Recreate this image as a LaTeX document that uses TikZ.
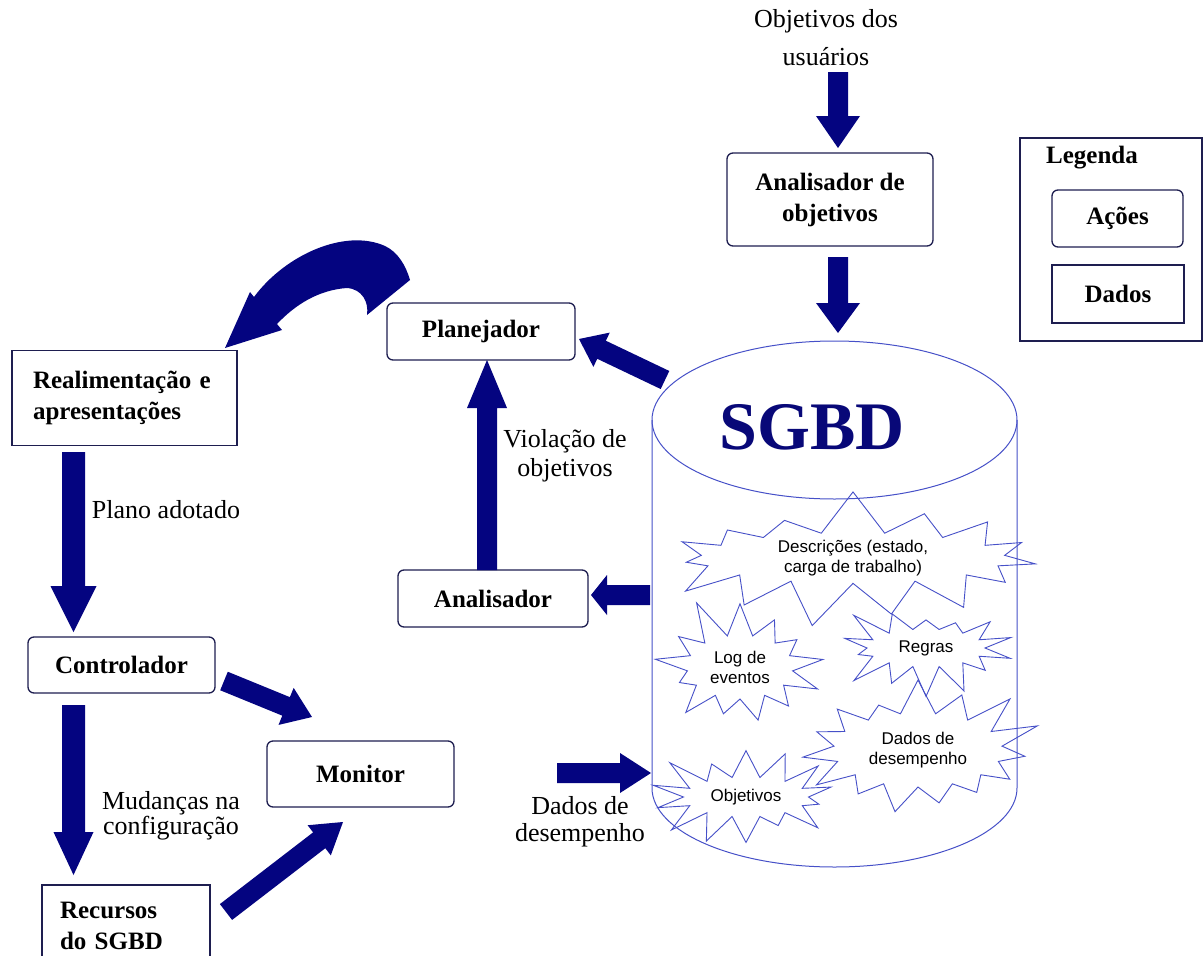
\documentclass[tikz,border=0pt]{standalone}
\usepackage{fontspec}
\setmainfont{Liberation Serif}
\newfontfamily\burstfont{Liberation Sans}
\usetikzlibrary{calc,shapes.symbols}

\definecolor{arrowblue}{RGB}{4,4,128}
\definecolor{boxline}{RGB}{30,30,80}
\definecolor{dbline}{RGB}{70,80,200}
\definecolor{sgbdblue}{RGB}{8,8,120}

% block arrow: #1 tail, #2 tip, #3 half shaft width, #4 half head width, #5 head length
\newcommand\blockarrow[5]{%
  \path ($(#2)!#5!(#1)$) coordinate (ba-h);
  \fill[arrowblue] ($(#1)!#3!90:(#2)$) -- ($(ba-h)!#3!-90:(#1)$) -- ($(ba-h)!#4!-90:(#1)$)
    -- (#2) -- ($(ba-h)!#4!90:(#1)$) -- ($(ba-h)!#3!90:(#1)$) -- ($(#1)!#3!-90:(#2)$) -- cycle;}

\begin{document}
\begin{tikzpicture}[x=1pt,y=-1pt,
  action/.style={draw=boxline, line width=1.3pt, rounded corners=6pt, inner sep=0pt,
    align=center, font=\fontsize{25}{31}\selectfont\bfseries},
  datum/.style={draw=boxline, line width=1.3pt, inner sep=0pt,
    font=\fontsize{25}{31}\selectfont\bfseries},
  lbl/.style={inner sep=0pt, align=center},
  burst/.style={starburst, draw=dbline, line width=0.9pt, inner sep=0pt, align=center,
    font=\burstfont\fontsize{17}{20}\selectfont},
  dbstroke/.style={draw=dbline, line width=1pt}
]
\useasboundingbox (0,0) rectangle (1203,956);
\fill[white] (0,0) rectangle (1203,956);

% ---------- database cylinder ----------
\draw[dbstroke] (834.5,420) ellipse [x radius=182.5pt, y radius=79pt];
\draw[dbstroke] (652,420) -- (652,788) arc[start angle=180, end angle=360, x radius=182.5pt, y radius=79pt] -- (1017,420);
\node[font=\fontsize{68}{68}\selectfont\bfseries, text=sgbdblue, inner sep=0pt] (sgbd) at (812,427) {SGBD};

% ---------- stored data ----------
\node[burst, minimum width=395pt, minimum height=130pt, starburst points=15,
  starburst point height=45pt, random starburst=7] (desc) at (853,558) {Descrições (estado,\\carga de trabalho)};
\node[burst, minimum width=190pt, minimum height=148pt, starburst points=13,
  starburst point height=42pt, random starburst=11] (log) at (740,667) {Log de\\eventos};
\node[burst, minimum width=188pt, minimum height=108pt, starburst points=14,
  starburst point height=35pt, random starburst=23] (rules) at (926,648) {Regras};
\node[burst, minimum width=265pt, minimum height=170pt, starburst points=15,
  starburst point height=48pt, random starburst=31] (perfdata) at (918,750) {Dados de\\desempenho};
\node[burst, minimum width=205pt, minimum height=120pt, starburst points=14,
  starburst point height=40pt, random starburst=41] (goals) at (746,797) {Objetivos};

% ---------- action and data boxes ----------
\node[action, minimum width=206pt, minimum height=93pt] (ga) at (830,199.5) {Analisador de\\objetivos};
\node[action, minimum width=188pt, minimum height=57pt] (plan) at (481,331.5) {Planejador};
\node[action, minimum width=190pt, minimum height=57pt] (anl) at (493,598.5) {Analisador};
\node[datum, minimum width=225pt, minimum height=95pt, text width=183pt, align=left] (real) at (124.5,398) {Realimentação e\\apresentações};
\node[action, minimum width=187pt, minimum height=56pt] (ctrl) at (121.5,665) {Controlador};
\node[action, minimum width=187pt, minimum height=66pt] (mon) at (360.5,774) {Monitor};
\node[datum, minimum width=168pt, minimum height=82pt, text width=132pt, align=left] (rec) at (126,926) {Recursos\\do SGBD};

% ---------- legend ----------
\node[draw=boxline, line width=1.3pt, minimum width=182pt, minimum height=203pt, inner sep=0pt] (legend) at (1111,239.5) {};
\node[inner sep=0pt, font=\fontsize{25}{31}\selectfont\bfseries] (legtitle) at (1092,158) {Legenda};
\node[action, minimum width=131pt, minimum height=57pt] (legact) at (1117.5,218.5) {Ações};
\node[datum, minimum width=132pt, minimum height=58pt] (legdat) at (1118,294) {Dados};

% ---------- labels ----------
\node[lbl, font=\fontsize{26}{38}\selectfont] (usergoals) at (826,38) {Objetivos dos\\usuários};
\node[lbl, font=\fontsize{26}{29}\selectfont] (viol) at (565,456) {Violação de\\objetivos};
\node[lbl, font=\fontsize{26}{30}\selectfont] (plano) at (166,510) {Plano adotado};
\node[lbl, font=\fontsize{26}{22}\selectfont] (mud) at (171,816) {Mudanças na\\configuração};
\node[lbl, font=\fontsize{26}{27}\selectfont] (perf) at (580,822) {Dados de\\desempenho};

% ---------- arrow end points ----------
\coordinate (ugT) at (838,72);     \coordinate (ugH) at (838,148);
\coordinate (gaT) at (838,257);    \coordinate (gaH) at (838,333);
\coordinate (dbP) at (665,380);    \coordinate (planH) at (579,339);
\coordinate (anlT) at (487,570);   \coordinate (planV) at (487,360);
\coordinate (dbA) at (650,595);    \coordinate (anlH) at (591,595);
\coordinate (realT) at (73.5,452); \coordinate (ctrlH) at (73.5,632);
\coordinate (ctrlM) at (224,681);  \coordinate (monH) at (312,717);
\coordinate (ctrlT) at (73.5,705); \coordinate (recH) at (73.5,875);
\coordinate (recT) at (226,912);   \coordinate (monH2) at (343,822);
\coordinate (perfT) at (557,773);  \coordinate (dbH) at (651,773);

\blockarrow{ugT}{ugH}{10pt}{22pt}{32pt}
\blockarrow{gaT}{gaH}{10pt}{22pt}{30pt}
\blockarrow{dbP}{planH}{10pt}{19pt}{25pt}
\blockarrow{anlT}{planV}{10pt}{20pt}{48pt}
\blockarrow{dbA}{anlH}{10pt}{20pt}{16pt}
\blockarrow{realT}{ctrlH}{11.5pt}{23pt}{46pt}
\blockarrow{ctrlM}{monH}{10pt}{20pt}{28pt}
\blockarrow{ctrlT}{recH}{11.5pt}{20pt}{43pt}
\blockarrow{recT}{monH2}{10pt}{19pt}{30pt}
\blockarrow{perfT}{dbH}{10pt}{20pt}{31pt}

% ---------- curved arrow from the planner to the feedback box ----------
\fill[arrowblue] (225,348) -- (250,292) -- (254,297)
  .. controls (285,255) and (345,228) .. (385,246)
  .. controls (398,252) and (406,266) .. (410,280)
  -- (367,315)
  .. controls (369,302) and (362,289) .. (347,288)
  .. controls (318,290) and (295,305) .. (277,324)
  -- (282,330) -- cycle;
\end{tikzpicture}
\end{document}
